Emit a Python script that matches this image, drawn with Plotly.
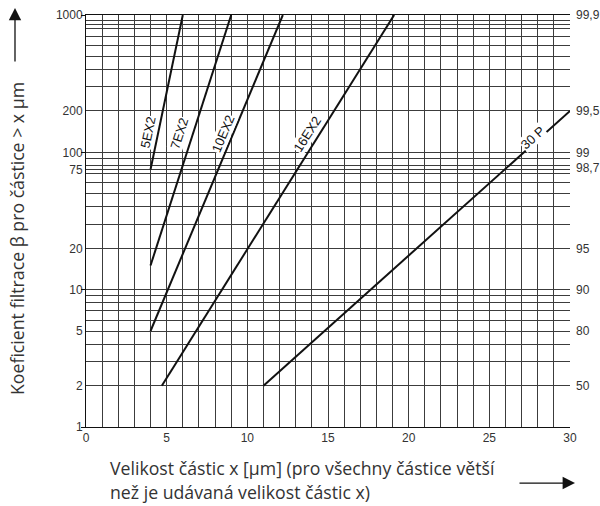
import numpy as np
import plotly.graph_objects as go

# ---- data ----
series_names = ["5EX2", "7EX2", "10EX2", "16EX2", "30 P"]
x_start = [4, 4, 4, 4.7, 11]
x_end = [6, 9, 12.2, 19.1, 30]
beta_start = [75, 15, 5, 2, 2]
beta_end = [1000, 1000, 1000, 1000, 200]

left_tick_vals = [1, 2, 5, 10, 20, 75, 100, 200, 1000]
grid_minor_vals = [3, 4, 6, 7, 8, 9, 30, 40, 50, 60, 70, 80, 90,
                   300, 400, 500, 600, 700, 800, 850, 915]
decade_vals = [1, 10, 100, 1000]
right_pct_text = ["99,9", "99,5", "99", "98,7", "95", "90", "80", "50"]
right_pct_vals = [99.9, 99.5, 99, 98.7, 95, 90, 80, 50]
x_ticks = list(range(0, 31))
x_label_vals = [0, 5, 10, 15, 20, 25, 30]

# label placement (x, beta, angle)
label_x = [3.84, 5.77, 8.49, 13.76, 27.7]
label_beta = [140, 138, 138, 136, 129]
label_angle = [-78, -72, -67, -57, -42]

GRID = "#3c3c3c"
TXT = "#333333"

fig = go.Figure()
for i, name in enumerate(series_names):
    fig.add_trace(go.Scatter(
        x=[x_start[i], x_end[i]], y=[beta_start[i], beta_end[i]],
        mode="lines", line=dict(color="#111111", width=2),
        name=name, showlegend=False, hoverinfo="skip"))

# dummy traces to activate secondary axes
fig.add_trace(go.Scatter(x=[0], y=[1], yaxis="y2", mode="markers",
                         marker=dict(opacity=0), showlegend=False, hoverinfo="skip"))
fig.add_trace(go.Scatter(x=[0], y=[1], yaxis="y3", mode="markers",
                         marker=dict(opacity=0), showlegend=False, hoverinfo="skip"))

right_beta = [1.0 / (1.0 - p / 100.0) for p in right_pct_vals]

tickfont = dict(family="Liberation Sans, Arial", size=12, color=TXT)

fig.update_layout(
    width=600, height=506,
    margin=dict(l=86, r=30, t=15, b=79, autoexpand=False),
    paper_bgcolor="white", plot_bgcolor="white",
    xaxis=dict(range=[0, 30], tickvals=x_ticks,
               ticktext=[str(v) if v in x_label_vals else "" for v in x_ticks],
               showgrid=True, gridcolor=GRID, gridwidth=1,
               showline=True, linecolor="#111", linewidth=1, mirror=True,
               ticks="", tickfont=tickfont, zeroline=False, automargin=False),
    yaxis=dict(type="log", range=[0, 3], tickvals=left_tick_vals,
               ticktext=[str(v) for v in left_tick_vals],
               showgrid=True, gridcolor=GRID, gridwidth=1,
               minor=dict(tickvals=grid_minor_vals, showgrid=True,
                          gridcolor=GRID, gridwidth=1, ticks=""),
               showline=True, linecolor="#111", linewidth=1,
               ticks="", tickfont=tickfont, zeroline=False, automargin=False),
    yaxis2=dict(type="log", range=[0, 3], overlaying="y", side="right",
                tickvals=right_beta, ticktext=right_pct_text,
                showgrid=False, showline=False, ticks="",
                tickfont=tickfont, ticklabelstandoff=5, automargin=False),
    yaxis3=dict(type="log", range=[0, 3], overlaying="y", side="left",
                tickvals=decade_vals, ticktext=["" for _ in decade_vals],
                showgrid=False, showline=False, ticks="outside",
                ticklen=4, tickcolor="#111", automargin=False),
)

annotations = []
for i, name in enumerate(series_names):
    annotations.append(dict(
        x=label_x[i], y=np.log10(label_beta[i]), xref="x", yref="y",
        text=name, showarrow=False, textangle=label_angle[i],
        font=dict(family="Liberation Sans, Arial", size=13, color="#111"),
        bgcolor="white", borderpad=0))

title_font = dict(family="Open Sans", size=17.7, color=TXT)
annotations.append(dict(
    x=-0.1426, y=0.4587, xref="paper", yref="paper",
    text="Koeficient filtrace β pro částice > x µm", showarrow=False,
    textangle=-90, font=title_font, xanchor="center", yanchor="middle"))
annotations.append(dict(
    x=0.0455, y=-0.0995, xref="paper", yref="paper",
    text="Velikost částic x [µm] (pro všechny částice větší", showarrow=False,
    font=title_font, xanchor="left", yanchor="middle"))
annotations.append(dict(
    x=0.0455, y=-0.158, xref="paper", yref="paper",
    text="než je udávaná velikost částic x)", showarrow=False,
    font=title_font, xanchor="left", yanchor="middle"))
# arrows
annotations.append(dict(
    x=-0.1467, y=1.017, xref="paper", yref="paper", text="",
    showarrow=True, ax=0, ay=55, axref="pixel", ayref="pixel",
    arrowhead=2, arrowsize=1.9, arrowwidth=1.3, arrowcolor="#111"))
annotations.append(dict(
    x=1.0103, y=-0.136, xref="paper", yref="paper", text="",
    showarrow=True, ax=-57, ay=0, axref="pixel", ayref="pixel",
    arrowhead=2, arrowsize=1.9, arrowwidth=1.3, arrowcolor="#111"))

fig.update_layout(annotations=annotations)
fig.write_html("out.html")
